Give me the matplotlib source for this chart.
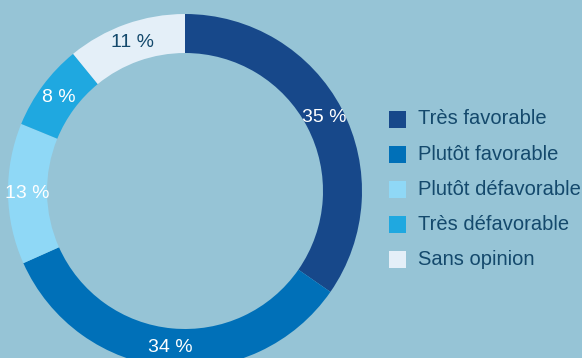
import matplotlib.pyplot as plt
from matplotlib.patches import Rectangle
import numpy as np

plt.rcParams['font.family'] = ['Liberation Sans', 'DejaVu Sans']

categories = ['Très favorable', 'Plutôt favorable', 'Plutôt défavorable',
              'Très défavorable', 'Sans opinion']
values = [35, 34, 13, 8, 11]
colors = ['#17488a', '#0070b8', '#8fd8f6', '#1fa8e0', '#e4eff8']
label_colors = ['white', 'white', 'white', 'white', '#14496c']
bg = '#96c4d6'
text_color = '#14496c'

W, H = 582, 358
fig = plt.figure(figsize=(W / 100, H / 100), dpi=100, facecolor=bg)
ax = fig.add_axes([0, 0, 1, 1])
ax.set_facecolor(bg)

cx, cy = 185, H - 191
R, ring = 177, 39
wedges, _ = ax.pie(values, colors=colors, startangle=90, counterclock=False,
                   center=(cx, cy), radius=R, frame=True,
                   wedgeprops=dict(width=ring, linewidth=0))
ax.set_xlim(0, W)
ax.set_ylim(0, H)
ax.set_aspect('equal')
ax.axis('off')

# percentage labels sitting in the middle of the ring
r_lab = R - ring / 2
for w, v, lc in zip(wedges, values, label_colors):
    ang = np.deg2rad((w.theta1 + w.theta2) / 2)
    ax.text(cx + r_lab * np.cos(ang), cy + r_lab * np.sin(ang), f'{v} %',
            ha='center', va='center', fontsize=14, color=lc)

# legend on the right
lx, ly, step, sq = 389, 119, 35.2, 17
for i, (name, c) in enumerate(zip(categories, colors)):
    y = H - (ly + i * step)
    ax.add_patch(Rectangle((lx, y - sq / 2), sq, sq, facecolor=c, edgecolor='none'))
    ax.text(lx + 29, y, name, ha='left', va='center', fontsize=14.5, color=text_color)

fig.savefig('out.png', dpi=100, facecolor=bg)
